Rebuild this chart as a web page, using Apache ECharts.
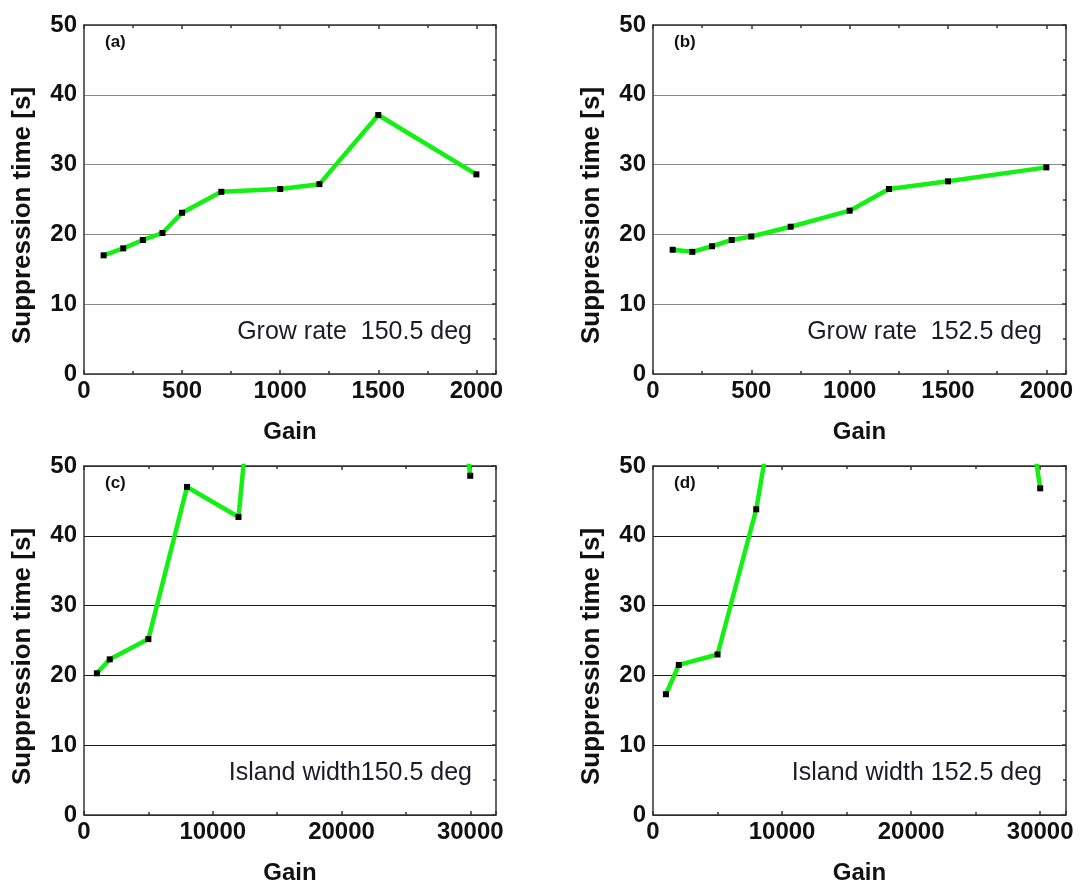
<!DOCTYPE html>
<html>
<head>
<meta charset="utf-8">
<script src="https://cdn.jsdelivr.net/npm/echarts@6/dist/echarts.min.js"></script>
<style>
  html, body { margin: 0; padding: 0; background: #fff; }
  #chart { width: 1081px; height: 889px; }
</style>
</head>
<body>
<div id="chart"></div>
<script>
// ---- data ----
const gainTop = [100, 200, 300, 400, 500, 700, 1000, 1200, 1500, 2000];
const timeA = [17.0, 18.0, 19.2, 20.2, 23.1, 26.1, 26.5, 27.2, 37.1, 28.6];
const timeB = [17.8, 17.5, 18.3, 19.2, 19.7, 21.1, 23.4, 26.5, 27.6, 29.6];
const gainC = [1000, 2000, 5000, 8000, 12000, 20000, 30000];
const timeC = [20.3, 22.3, 25.2, 47.0, 42.7, 195, 48.6];
const gainD = [1000, 2000, 5000, 8000, 20000, 30000];
const timeD = [17.3, 21.5, 23.0, 43.8, 174, 46.8];
const panelLabels = ['(a)', '(b)', '(c)', '(d)'];
const annotations = ['Grow rate  150.5 deg', 'Grow rate  152.5 deg', 'Island width150.5 deg', 'Island width 152.5 deg'];
const xTitle = 'Gain';
const yTitle = 'Suppression time [s]';

const FONT = '"Liberation Sans", Arial, sans-serif';
const panels = [
  { gain: gainTop, time: timeA, xMax: 2100, xInt: 500, grid: { left: 84, top: 25, width: 412, height: 349 }, gridColor: '#8a8a8a' },
  { gain: gainTop, time: timeB, xMax: 2100, xInt: 500, grid: { left: 653, top: 25, width: 413, height: 349 }, gridColor: '#8a8a8a' },
  { gain: gainC, time: timeC, xMax: 32000, xInt: 10000, grid: { left: 84, top: 466, width: 412, height: 349 }, gridColor: '#1a1a1a' },
  { gain: gainD, time: timeD, xMax: 32000, xInt: 10000, grid: { left: 653, top: 466, width: 413, height: 349 }, gridColor: '#1a1a1a' }
];

const grids = [], xAxes = [], yAxes = [], series = [], graphics = [];
const axisLineStyle = { color: '#333', width: 1.5 };
panels.forEach((p, i) => {
  grids.push(Object.assign({ containLabel: false, outerBoundsMode: 'none' }, p.grid));
  // bottom x
  xAxes.push({
    gridIndex: i, type: 'value', position: 'bottom', min: 0, max: p.xMax, interval: p.xInt,
    axisLine: { show: true, onZero: false, lineStyle: axisLineStyle },
    axisTick: { show: true, inside: true, length: 4, lineStyle: { color: '#333', width: 1.5 } },
    minorTick: { show: true, splitNumber: 2, length: 3, lineStyle: { color: '#333', width: 1.5 } },
    axisLabel: { show: true, fontFamily: FONT, fontSize: 24, fontWeight: 'bold', color: '#111', margin: 5, showMaxLabel: false,
      formatter: v => String(v) },
    splitLine: { show: false },
    name: xTitle, nameLocation: 'middle', nameGap: 46,
    nameTextStyle: { fontFamily: FONT, fontSize: 24, fontWeight: 'bold', color: '#111' }
  });
  // top x (frame)
  xAxes.push({
    gridIndex: i, type: 'value', position: 'top', min: 0, max: p.xMax, interval: p.xInt,
    axisLine: { show: true, onZero: false, lineStyle: axisLineStyle },
    axisTick: { show: true, inside: true, length: 4, lineStyle: { color: '#333', width: 1.5 } },
    minorTick: { show: true, splitNumber: 2, length: 3, lineStyle: { color: '#333', width: 1.5 } },
    axisLabel: { show: false }, splitLine: { show: false }
  });
  // left y
  yAxes.push({
    gridIndex: i, type: 'value', position: 'left', min: 0, max: 50, interval: 10,
    axisLine: { show: true, onZero: false, lineStyle: axisLineStyle },
    axisTick: { show: false },
    axisLabel: { show: true, fontFamily: FONT, fontSize: 24, fontWeight: 'bold', color: '#111', margin: 7 },
    splitLine: { show: true, lineStyle: { color: p.gridColor, width: 1.2 } },
    name: yTitle, nameLocation: 'middle', nameGap: 48,
    nameTextStyle: { fontFamily: FONT, fontSize: 26, fontWeight: 'bold', color: '#111', padding: [0, 32, 0, 0] }
  });
  // right y (frame)
  yAxes.push({
    gridIndex: i, type: 'value', position: 'right', min: 0, max: 50, interval: 10,
    axisLine: { show: true, onZero: false, lineStyle: axisLineStyle },
    axisTick: { show: true, inside: true, length: 4, lineStyle: { color: '#333', width: 1.5 } },
    minorTick: { show: true, splitNumber: 2, length: 3, lineStyle: { color: '#333', width: 1.5 } },
    axisLabel: { show: false }, splitLine: { show: false }
  });
  series.push({
    type: 'line', xAxisIndex: 2 * i, yAxisIndex: 2 * i,
    data: p.gain.map((g, k) => [g, p.time[k]]),
    clip: true,
    symbol: 'rect', symbolSize: [6, 6], showAllSymbol: true,
    itemStyle: { color: '#000' },
    lineStyle: { color: '#14f014', width: 4.5 },
    emphasis: { disabled: true },
    animation: false, z: 3
  });
  const g = p.grid;
  graphics.push({
    type: 'text', x: g.left + 21, y: g.top + 17,
    style: { text: panelLabels[i], font: 'bold 17px ' + FONT, fill: '#111', textAlign: 'left', textVerticalAlign: 'middle' },
    z: 10
  });
  graphics.push({
    type: 'text', x: g.left + g.width - 24, y: g.top + g.height - 42,
    style: { text: annotations[i], font: '25px ' + FONT, fill: '#1c1c28', textAlign: 'right', textVerticalAlign: 'middle' },
    z: 10
  });
});

const chart = echarts.init(document.getElementById('chart'), null, { renderer: 'canvas' });
chart.setOption({
  animation: false,
  backgroundColor: '#fff',
  grid: grids, xAxis: xAxes, yAxis: yAxes, series: series,
  graphic: graphics
});
</script>
</body>
</html>
